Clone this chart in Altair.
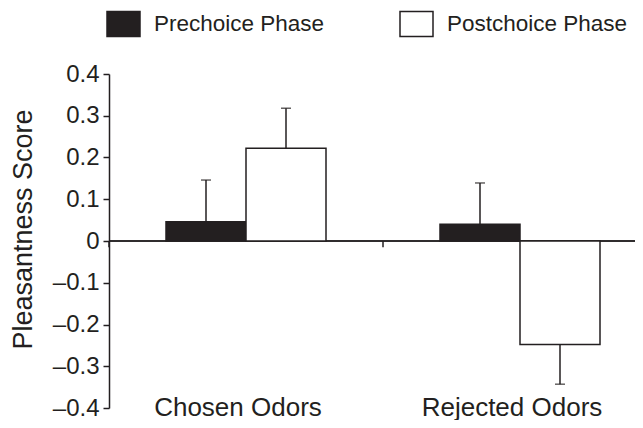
import altair as alt
import pandas as pd

# ---- data ----
categories = ["Chosen Odors", "Chosen Odors", "Rejected Odors", "Rejected Odors"]
phases = ["Prechoice Phase", "Postchoice Phase", "Prechoice Phase", "Postchoice Phase"]
means = [0.046, 0.222, 0.040, -0.248]
sems = [0.100, 0.096, 0.099, 0.095]
category_order = ["Chosen Odors", "Rejected Odors"]
phase_order = ["Prechoice Phase", "Postchoice Phase"]
y_ticks = [0.4, 0.3, 0.2, 0.1, 0, -0.1, -0.2, -0.3, -0.4]

df = pd.DataFrame({"cat": categories, "phase": phases, "mean": means, "sem": sems})
df["end"] = [m + (s if m >= 0 else -s) for m, s in zip(means, sems)]
cats_df = pd.DataFrame({"cat": category_order})

INK = "#231f20"
FONT = "Liberation Sans"

x_scale = alt.Scale(domain=category_order, range=[0, 548], paddingInner=0, paddingOuter=0)
x_axis = alt.Axis(
    title=None, domain=False, ticks=False, tickSize=0, labelAngle=0, grid=False,
    labelFont=FONT, labelFontSize=26, labelColor=INK, labelPadding=7,
    labelBaseline="alphabetic", labelLimit=0, labelOffset=-8,
)
x_enc = alt.X("cat:N", sort=category_order, scale=x_scale, axis=x_axis)
xo_enc = alt.XOffset(
    "phase:N", sort=phase_order,
    scale=alt.Scale(domain=phase_order, paddingInner=0, paddingOuter=0.7125),
)
y_scale = alt.Scale(domain=[-0.4, 0.4], nice=False, zero=False)
y_axis = alt.Axis(
    values=y_ticks,
    labelExpr="datum.value == 0 ? '0' : (datum.value < 0 ? '\u2013' + format(-datum.value, '.1f') : format(datum.value, '.1f'))",
    labelFont=FONT, labelFontSize=24, labelColor=INK, labelPadding=4,
    domainColor=INK, domainWidth=1.5, tickColor=INK, tickWidth=1.5, tickSize=6,
    grid=False,
    title="Pleasantness Score", titleFont=FONT, titleFontSize=27, titleColor=INK,
    titleFontWeight="normal", titleAngle=-90, titleBaseline="alphabetic",
    titleX=-78, titleY=155,
)

zero = alt.Chart(cats_df).mark_rule(color=INK, strokeWidth=1.5).encode(
    y=alt.Y(datum=0, scale=y_scale, axis=y_axis)
)

bars = alt.Chart(df).mark_bar(stroke=INK, strokeWidth=1.5).encode(
    x=x_enc,
    xOffset=xo_enc,
    y=alt.Y("mean:Q", scale=y_scale, axis=y_axis),
    y2=alt.Y2(datum=0),
    fill=alt.Fill(
        "phase:N", sort=phase_order,
        scale=alt.Scale(domain=phase_order, range=[INK, "#ffffff"]),
        legend=alt.Legend(
            title=None, orient="none", legendX=-3, legendY=-68, direction="horizontal",
            symbolType="M-1,-0.76H1V0.76H-1Z", symbolSize=1089,
            symbolStrokeColor=INK, symbolStrokeWidth=1.5,
            labelFont=FONT, labelFontSize=22.5, labelColor=INK, labelOffset=13,
            labelLimit=0, columnPadding=72, padding=0,
        ),
    ),
)

err = alt.Chart(df).mark_rule(color=INK, strokeWidth=1.5).encode(
    x=x_enc, xOffset=xo_enc, y=alt.Y("mean:Q", scale=y_scale, axis=y_axis), y2="end:Q"
)

caps = alt.Chart(df).mark_tick(color=INK, thickness=1.5, size=10, orient="horizontal").encode(
    x=x_enc, xOffset=xo_enc, y=alt.Y("end:Q", scale=y_scale, axis=y_axis)
)

boundary = alt.Chart(cats_df).mark_rule(color=INK, strokeWidth=1.5).encode(
    x=alt.X("cat:N", sort=category_order, scale=x_scale, bandPosition=0, axis=x_axis),
    y=alt.Y(datum=0, scale=y_scale, axis=y_axis),
    y2=alt.Y2(datum=-0.015),
)

chart = (
    alt.layer(zero, bars, err, caps, boundary)
    .properties(
        width=526,
        height=334,
        autosize=alt.AutoSizeParams(type="none"),
        padding={"left": 101, "top": 66, "right": 0, "bottom": 12},
        background="white",
    )
    .configure_view(strokeWidth=0, stroke=None)
)

chart.save("out.html", embed_options={"renderer": "svg", "actions": False})
